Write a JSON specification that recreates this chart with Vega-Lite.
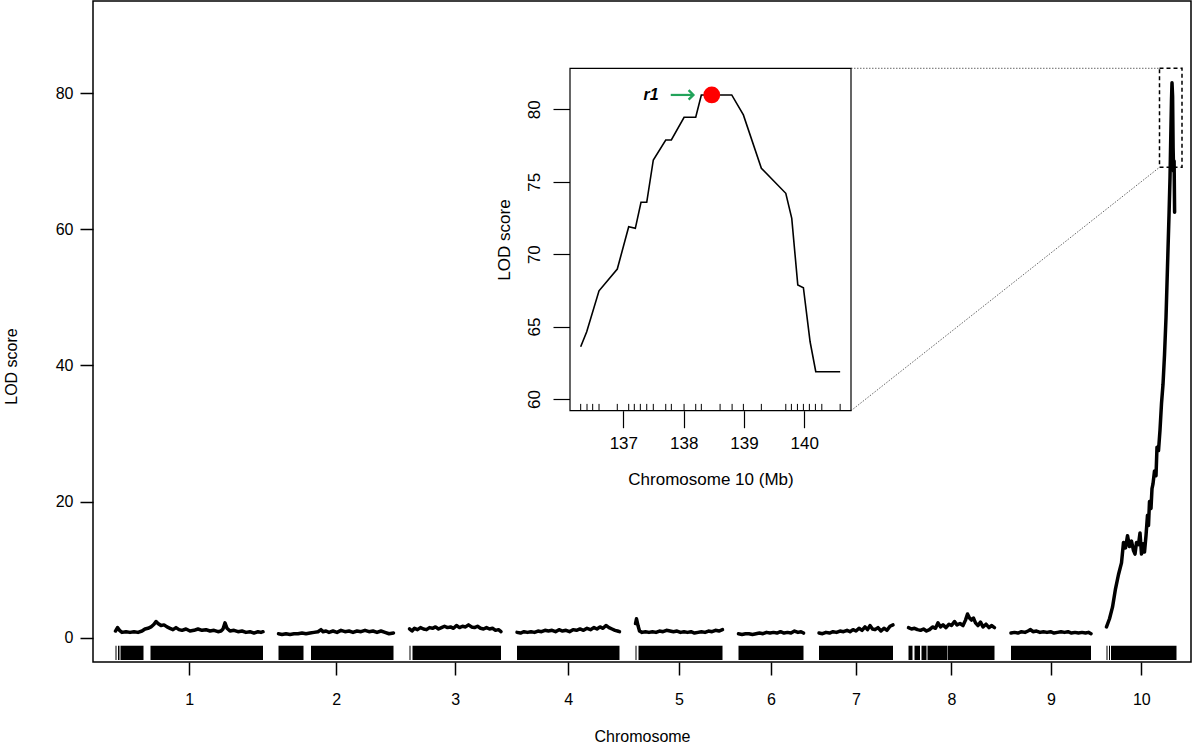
{
  "$schema": "https://vega.github.io/schema/vega-lite/v6.json",
  "width": 1098,
  "height": 661,
  "autosize": {"type": "none"},
  "padding": {"left": 93, "top": 1, "right": 9, "bottom": 84},
  "background": "white",
  "config": {
    "font": "Liberation Sans",
    "view": {"stroke": "black", "strokeWidth": 1.5},
    "axis": {"grid": false, "labelColor": "black", "titleColor": "black", "tickColor": "black", "titleFontWeight": "normal", "labelFont": "Liberation Sans", "titleFont": "Liberation Sans"}
  },
  "datasets": {
    "main": [
      {"chr":1,"pos":45,"lod":1.0},{"chr":1,"pos":49,"lod":1.5},{"chr":1,"pos":53,"lod":1.1},{"chr":1,"pos":58,"lod":0.8},{"chr":1,"pos":66,"lod":0.9},{"chr":1,"pos":74,"lod":0.8},{"chr":1,"pos":82,"lod":0.9},{"chr":1,"pos":90,"lod":0.8},{"chr":1,"pos":98,"lod":1.0},{"chr":1,"pos":104,"lod":1.3},{"chr":1,"pos":110,"lod":1.4},{"chr":1,"pos":116,"lod":1.6},{"chr":1,"pos":122,"lod":2.0},{"chr":1,"pos":126,"lod":2.4},{"chr":1,"pos":130,"lod":2.1},{"chr":1,"pos":136,"lod":1.8},{"chr":1,"pos":142,"lod":1.9},{"chr":1,"pos":148,"lod":1.6},{"chr":1,"pos":154,"lod":1.4},{"chr":1,"pos":160,"lod":1.2},{"chr":1,"pos":166,"lod":1.5},{"chr":1,"pos":172,"lod":1.2},{"chr":1,"pos":178,"lod":1.1},{"chr":1,"pos":186,"lod":1.3},{"chr":1,"pos":194,"lod":1.0},{"chr":1,"pos":202,"lod":1.1},{"chr":1,"pos":210,"lod":1.3},{"chr":1,"pos":218,"lod":1.1},{"chr":1,"pos":226,"lod":1.2},{"chr":1,"pos":234,"lod":1.0},{"chr":1,"pos":242,"lod":1.1},{"chr":1,"pos":250,"lod":0.9},{"chr":1,"pos":256,"lod":1.0},{"chr":1,"pos":260,"lod":1.3},{"chr":1,"pos":264,"lod":2.2},{"chr":1,"pos":268,"lod":1.4},{"chr":1,"pos":274,"lod":1.0},{"chr":1,"pos":282,"lod":1.1},{"chr":1,"pos":290,"lod":0.9},{"chr":1,"pos":298,"lod":1.0},{"chr":1,"pos":306,"lod":0.8},{"chr":1,"pos":314,"lod":0.9},{"chr":1,"pos":322,"lod":0.7},{"chr":1,"pos":330,"lod":0.9},{"chr":1,"pos":336,"lod":0.8},{"chr":1,"pos":340,"lod":0.9},
      {"chr":2,"pos":371,"lod":0.6},{"chr":2,"pos":378,"lod":0.5},{"chr":2,"pos":386,"lod":0.6},{"chr":2,"pos":394,"lod":0.5},{"chr":2,"pos":402,"lod":0.6},{"chr":2,"pos":410,"lod":0.6},{"chr":2,"pos":418,"lod":0.7},{"chr":2,"pos":426,"lod":0.6},{"chr":2,"pos":434,"lod":0.7},{"chr":2,"pos":442,"lod":0.8},{"chr":2,"pos":450,"lod":0.9},{"chr":2,"pos":456,"lod":1.2},{"chr":2,"pos":460,"lod":0.9},{"chr":2,"pos":466,"lod":1.0},{"chr":2,"pos":472,"lod":0.8},{"chr":2,"pos":480,"lod":1.0},{"chr":2,"pos":488,"lod":0.8},{"chr":2,"pos":496,"lod":1.1},{"chr":2,"pos":504,"lod":0.9},{"chr":2,"pos":512,"lod":1.0},{"chr":2,"pos":520,"lod":0.8},{"chr":2,"pos":528,"lod":1.0},{"chr":2,"pos":536,"lod":0.9},{"chr":2,"pos":544,"lod":1.1},{"chr":2,"pos":552,"lod":0.9},{"chr":2,"pos":560,"lod":1.0},{"chr":2,"pos":568,"lod":0.8},{"chr":2,"pos":576,"lod":1.0},{"chr":2,"pos":584,"lod":0.8},{"chr":2,"pos":592,"lod":0.6},{"chr":2,"pos":601,"lod":0.7},
      {"chr":3,"pos":633,"lod":1.3},{"chr":3,"pos":638,"lod":1.0},{"chr":3,"pos":643,"lod":1.4},{"chr":3,"pos":649,"lod":1.2},{"chr":3,"pos":655,"lod":1.5},{"chr":3,"pos":661,"lod":1.3},{"chr":3,"pos":667,"lod":1.2},{"chr":3,"pos":673,"lod":1.5},{"chr":3,"pos":679,"lod":1.4},{"chr":3,"pos":685,"lod":1.6},{"chr":3,"pos":691,"lod":1.3},{"chr":3,"pos":697,"lod":1.5},{"chr":3,"pos":703,"lod":1.7},{"chr":3,"pos":709,"lod":1.5},{"chr":3,"pos":715,"lod":1.6},{"chr":3,"pos":721,"lod":1.4},{"chr":3,"pos":727,"lod":1.8},{"chr":3,"pos":733,"lod":1.5},{"chr":3,"pos":739,"lod":1.7},{"chr":3,"pos":745,"lod":1.6},{"chr":3,"pos":751,"lod":1.9},{"chr":3,"pos":757,"lod":1.6},{"chr":3,"pos":763,"lod":1.5},{"chr":3,"pos":769,"lod":1.7},{"chr":3,"pos":775,"lod":1.4},{"chr":3,"pos":781,"lod":1.3},{"chr":3,"pos":787,"lod":1.5},{"chr":3,"pos":793,"lod":1.3},{"chr":3,"pos":799,"lod":1.4},{"chr":3,"pos":805,"lod":1.1},{"chr":3,"pos":811,"lod":1.2},{"chr":3,"pos":816,"lod":0.9},
      {"chr":4,"pos":848,"lod":0.8},{"chr":4,"pos":855,"lod":0.7},{"chr":4,"pos":862,"lod":0.9},{"chr":4,"pos":869,"lod":0.8},{"chr":4,"pos":876,"lod":0.9},{"chr":4,"pos":883,"lod":0.8},{"chr":4,"pos":890,"lod":1.0},{"chr":4,"pos":897,"lod":0.9},{"chr":4,"pos":904,"lod":1.1},{"chr":4,"pos":911,"lod":1.0},{"chr":4,"pos":918,"lod":1.1},{"chr":4,"pos":925,"lod":0.9},{"chr":4,"pos":932,"lod":1.2},{"chr":4,"pos":939,"lod":1.0},{"chr":4,"pos":946,"lod":1.1},{"chr":4,"pos":953,"lod":0.9},{"chr":4,"pos":960,"lod":1.2},{"chr":4,"pos":967,"lod":1.1},{"chr":4,"pos":974,"lod":1.3},{"chr":4,"pos":981,"lod":1.1},{"chr":4,"pos":988,"lod":1.4},{"chr":4,"pos":995,"lod":1.2},{"chr":4,"pos":1002,"lod":1.5},{"chr":4,"pos":1008,"lod":1.3},{"chr":4,"pos":1014,"lod":1.6},{"chr":4,"pos":1020,"lod":1.4},{"chr":4,"pos":1026,"lod":1.8},{"chr":4,"pos":1032,"lod":1.5},{"chr":4,"pos":1038,"lod":1.3},{"chr":4,"pos":1044,"lod":1.1},{"chr":4,"pos":1049,"lod":1.0},{"chr":4,"pos":1053,"lod":0.9},
      {"chr":5,"pos":1085,"lod":2.1},{"chr":5,"pos":1087,"lod":2.8},{"chr":5,"pos":1090,"lod":1.8},{"chr":5,"pos":1093,"lod":1.0},{"chr":5,"pos":1098,"lod":0.8},{"chr":5,"pos":1105,"lod":0.9},{"chr":5,"pos":1112,"lod":0.8},{"chr":5,"pos":1119,"lod":0.9},{"chr":5,"pos":1126,"lod":0.8},{"chr":5,"pos":1133,"lod":1.0},{"chr":5,"pos":1140,"lod":0.9},{"chr":5,"pos":1147,"lod":1.1},{"chr":5,"pos":1154,"lod":1.0},{"chr":5,"pos":1161,"lod":0.9},{"chr":5,"pos":1168,"lod":1.0},{"chr":5,"pos":1175,"lod":0.8},{"chr":5,"pos":1182,"lod":0.9},{"chr":5,"pos":1189,"lod":0.8},{"chr":5,"pos":1196,"lod":0.9},{"chr":5,"pos":1203,"lod":0.7},{"chr":5,"pos":1210,"lod":0.8},{"chr":5,"pos":1217,"lod":0.9},{"chr":5,"pos":1224,"lod":0.8},{"chr":5,"pos":1231,"lod":1.0},{"chr":5,"pos":1238,"lod":0.9},{"chr":5,"pos":1245,"lod":1.1},{"chr":5,"pos":1252,"lod":1.0},{"chr":5,"pos":1259,"lod":1.2},
      {"chr":6,"pos":1291,"lod":0.6},{"chr":6,"pos":1298,"lod":0.5},{"chr":6,"pos":1305,"lod":0.6},{"chr":6,"pos":1312,"lod":0.6},{"chr":6,"pos":1319,"lod":0.5},{"chr":6,"pos":1326,"lod":0.6},{"chr":6,"pos":1333,"lod":0.7},{"chr":6,"pos":1340,"lod":0.6},{"chr":6,"pos":1347,"lod":0.8},{"chr":6,"pos":1354,"lod":0.7},{"chr":6,"pos":1361,"lod":0.8},{"chr":6,"pos":1368,"lod":0.7},{"chr":6,"pos":1375,"lod":0.9},{"chr":6,"pos":1382,"lod":0.7},{"chr":6,"pos":1389,"lod":0.8},{"chr":6,"pos":1396,"lod":0.7},{"chr":6,"pos":1403,"lod":1.0},{"chr":6,"pos":1410,"lod":0.8},{"chr":6,"pos":1416,"lod":0.9},{"chr":6,"pos":1421,"lod":0.7},
      {"chr":7,"pos":1452,"lod":0.7},{"chr":7,"pos":1459,"lod":0.6},{"chr":7,"pos":1466,"lod":0.8},{"chr":7,"pos":1473,"lod":0.7},{"chr":7,"pos":1480,"lod":0.9},{"chr":7,"pos":1487,"lod":0.8},{"chr":7,"pos":1494,"lod":1.0},{"chr":7,"pos":1501,"lod":0.9},{"chr":7,"pos":1508,"lod":1.1},{"chr":7,"pos":1514,"lod":0.9},{"chr":7,"pos":1520,"lod":1.2},{"chr":7,"pos":1526,"lod":1.0},{"chr":7,"pos":1532,"lod":1.4},{"chr":7,"pos":1538,"lod":1.1},{"chr":7,"pos":1544,"lod":1.6},{"chr":7,"pos":1549,"lod":1.2},{"chr":7,"pos":1554,"lod":1.8},{"chr":7,"pos":1559,"lod":1.3},{"chr":7,"pos":1564,"lod":1.2},{"chr":7,"pos":1570,"lod":1.5},{"chr":7,"pos":1576,"lod":1.0},{"chr":7,"pos":1582,"lod":1.4},{"chr":7,"pos":1588,"lod":1.1},{"chr":7,"pos":1594,"lod":1.7},{"chr":7,"pos":1600,"lod":1.9},
      {"chr":8,"pos":1631,"lod":1.5},{"chr":8,"pos":1637,"lod":1.3},{"chr":8,"pos":1643,"lod":1.4},{"chr":8,"pos":1649,"lod":1.2},{"chr":8,"pos":1655,"lod":1.1},{"chr":8,"pos":1661,"lod":1.3},{"chr":8,"pos":1667,"lod":1.0},{"chr":8,"pos":1673,"lod":1.2},{"chr":8,"pos":1679,"lod":1.6},{"chr":8,"pos":1685,"lod":1.4},{"chr":8,"pos":1690,"lod":2.2},{"chr":8,"pos":1695,"lod":1.6},{"chr":8,"pos":1700,"lod":1.9},{"chr":8,"pos":1706,"lod":1.5},{"chr":8,"pos":1712,"lod":2.0},{"chr":8,"pos":1717,"lod":1.8},{"chr":8,"pos":1723,"lod":2.4},{"chr":8,"pos":1728,"lod":1.9},{"chr":8,"pos":1734,"lod":2.1},{"chr":8,"pos":1740,"lod":1.8},{"chr":8,"pos":1745,"lod":2.6},{"chr":8,"pos":1749,"lod":3.5},{"chr":8,"pos":1753,"lod":2.9},{"chr":8,"pos":1757,"lod":2.6},{"chr":8,"pos":1761,"lod":2.9},{"chr":8,"pos":1765,"lod":2.2},{"chr":8,"pos":1770,"lod":1.8},{"chr":8,"pos":1775,"lod":2.3},{"chr":8,"pos":1780,"lod":1.6},{"chr":8,"pos":1786,"lod":2.0},{"chr":8,"pos":1792,"lod":1.5},{"chr":8,"pos":1797,"lod":1.8},{"chr":8,"pos":1803,"lod":1.5},
      {"chr":9,"pos":1836,"lod":0.7},{"chr":9,"pos":1843,"lod":0.8},{"chr":9,"pos":1850,"lod":0.7},{"chr":9,"pos":1857,"lod":0.9},{"chr":9,"pos":1864,"lod":0.8},{"chr":9,"pos":1870,"lod":1.0},{"chr":9,"pos":1875,"lod":1.2},{"chr":9,"pos":1880,"lod":0.9},{"chr":9,"pos":1887,"lod":1.0},{"chr":9,"pos":1894,"lod":0.8},{"chr":9,"pos":1901,"lod":0.9},{"chr":9,"pos":1908,"lod":0.8},{"chr":9,"pos":1915,"lod":0.9},{"chr":9,"pos":1922,"lod":0.7},{"chr":9,"pos":1929,"lod":0.8},{"chr":9,"pos":1936,"lod":0.9},{"chr":9,"pos":1943,"lod":0.8},{"chr":9,"pos":1950,"lod":0.9},{"chr":9,"pos":1957,"lod":0.7},{"chr":9,"pos":1964,"lod":0.8},{"chr":9,"pos":1971,"lod":0.7},{"chr":9,"pos":1978,"lod":0.8},{"chr":9,"pos":1985,"lod":0.7},{"chr":9,"pos":1991,"lod":0.8},{"chr":9,"pos":1996,"lod":0.6},
      {"chr":10,"pos":2027,"lod":1.6},{"chr":10,"pos":2033,"lod":2.8},{"chr":10,"pos":2039,"lod":4.5},{"chr":10,"pos":2045,"lod":7.2},{"chr":10,"pos":2051,"lod":9.3},{"chr":10,"pos":2057,"lod":11.0},{"chr":10,"pos":2061,"lod":14.0},{"chr":10,"pos":2065,"lod":13.2},{"chr":10,"pos":2069,"lod":15.0},{"chr":10,"pos":2073,"lod":13.4},{"chr":10,"pos":2077,"lod":14.2},{"chr":10,"pos":2081,"lod":12.8},{"chr":10,"pos":2084,"lod":12.3},{"chr":10,"pos":2087,"lod":14.0},{"chr":10,"pos":2091,"lod":13.7},{"chr":10,"pos":2094,"lod":15.4},{"chr":10,"pos":2097,"lod":12.3},{"chr":10,"pos":2100,"lod":13.8},{"chr":10,"pos":2103,"lod":12.6},{"chr":10,"pos":2106,"lod":15.0},{"chr":10,"pos":2109,"lod":18.0},{"chr":10,"pos":2111,"lod":16.5},{"chr":10,"pos":2113,"lod":20.0},{"chr":10,"pos":2116,"lod":19.0},{"chr":10,"pos":2118,"lod":21.9},{"chr":10,"pos":2120,"lod":22.6},{"chr":10,"pos":2123,"lod":24.5},{"chr":10,"pos":2126,"lod":23.8},{"chr":10,"pos":2128,"lod":28.0},{"chr":10,"pos":2131,"lod":27.5},{"chr":10,"pos":2134,"lod":30.5},{"chr":10,"pos":2137,"lod":34.4},{"chr":10,"pos":2140,"lod":37.2},{"chr":10,"pos":2143,"lod":41.5},{"chr":10,"pos":2146,"lod":47.0},{"chr":10,"pos":2149,"lod":54.5},{"chr":10,"pos":2152,"lod":62.0},{"chr":10,"pos":2154,"lod":67.5},{"chr":10,"pos":2155.5,"lod":73.4},{"chr":10,"pos":2157,"lod":79.0},{"chr":10,"pos":2158,"lod":81.5},{"chr":10,"pos":2159.2,"lod":79.5},{"chr":10,"pos":2160.2,"lod":72.0},{"chr":10,"pos":2161.2,"lod":68.5},{"chr":10,"pos":2162.2,"lod":70.0},{"chr":10,"pos":2163.2,"lod":62.5}
    ],
    "rug": [
      {"start":45,"end":47},{"start":50,"end":53},{"start":55,"end":101},{"start":115,"end":340},
      {"start":371,"end":421},{"start":436,"end":601},
      {"start":633,"end":635},{"start":639,"end":816},
      {"start":848,"end":1053},
      {"start":1085,"end":1087},{"start":1091,"end":1259},
      {"start":1291,"end":1421},
      {"start":1452,"end":1600},
      {"start":1631,"end":1639},{"start":1643,"end":1654},{"start":1657,"end":1667},{"start":1669,"end":1708},{"start":1709,"end":1803},
      {"start":1836,"end":1996},
      {"start":2027,"end":2029},{"start":2032,"end":2034},{"start":2036,"end":2167}
    ],
    "box": [{"x1":2133,"x2":2178,"y1":69.09,"y2":83.63}],
    "conn": [
      {"x1":1516,"y1":83.63,"x2":2133,"y2":83.63},
      {"x1":1516,"y1":33.35,"x2":2133,"y2":69.09}
    ],
    "frame": [{"x1":136.116,"x2":140.774,"y1":59.19,"y2":82.83}],
    "inset": [
      {"pos":136.293,"lod":63.61},{"pos":136.393,"lod":64.64},{"pos":136.597,"lod":67.47},{"pos":136.900,"lod":68.97},{"pos":137.089,"lod":71.89},{"pos":137.199,"lod":71.78},{"pos":137.293,"lod":73.58},{"pos":137.388,"lod":73.58},{"pos":137.497,"lod":76.50},{"pos":137.703,"lod":77.88},{"pos":137.796,"lod":77.88},{"pos":138.007,"lod":79.45},{"pos":138.200,"lod":79.45},{"pos":138.293,"lod":80.99},{"pos":138.797,"lod":80.99},{"pos":138.990,"lod":79.61},{"pos":139.288,"lod":75.93},{"pos":139.693,"lod":74.20},{"pos":139.792,"lod":72.47},{"pos":139.892,"lod":67.87},{"pos":139.985,"lod":67.68},{"pos":140.096,"lod":63.95},{"pos":140.190,"lod":61.88},{"pos":140.594,"lod":61.88}
    ],
    "insetRug": [
      {"pos":136.293},{"pos":136.398},{"pos":136.492},{"pos":136.597},{"pos":136.900},{"pos":137.089},{"pos":137.182},{"pos":137.282},{"pos":137.388},{"pos":137.497},{"pos":137.703},{"pos":137.796},{"pos":138.007},{"pos":138.200},{"pos":138.293},{"pos":138.604},{"pos":138.803},{"pos":138.990},{"pos":139.288},{"pos":139.693},{"pos":139.786},{"pos":139.886},{"pos":139.985},{"pos":140.084},{"pos":140.184},{"pos":140.290},{"pos":140.594}
    ],
    "peak": [{"pos":138.466,"lod":80.99}],
    "arrow": [{"x1":137.786,"x2":138.14,"lod":80.99}],
    "arrowHead": [{"pos":138.161,"lod":80.99}],
    "label": [{"pos":137.584,"lod":81.0,"text":"r1"}]
  },
  "layer": [
    {
      "layer": [
        {
          "data": {"name": "main"},
          "mark": {"type": "line", "color": "black", "strokeWidth": 3.5, "strokeJoin": "round", "strokeCap": "round"},
          "encoding": {
            "x": {"field": "pos", "type": "quantitative",
              "scale": {"domain": [0, 2196], "nice": false, "zero": false},
              "axis": {"title": "Chromosome", "orient": "bottom", "values": [192.6, 486.2, 724.3, 950.6, 1171.9, 1355.9, 1526, 1716.9, 1916, 2096.6],
                "labelExpr": "datum.value < 300 ? '1' : datum.value < 600 ? '2' : datum.value < 800 ? '3' : datum.value < 1000 ? '4' : datum.value < 1200 ? '5' : datum.value < 1400 ? '6' : datum.value < 1600 ? '7' : datum.value < 1800 ? '8' : datum.value < 2000 ? '9' : '10'",
                "domain": false, "tickSize": 13, "tickWidth": 1.5, "labelFontSize": 16, "labelPadding": 16, "titleFontSize": 16, "titlePadding": 21, "labelFlush": false, "labelOverlap": false}},
            "y": {"field": "lod", "type": "quantitative",
              "scale": {"domain": [-3.55, 93.51], "nice": false, "zero": false},
              "axis": {"title": "LOD score", "orient": "left", "values": [0, 20, 40, 60, 80], "domain": false, "tickSize": 13, "tickWidth": 1.5, "labelFontSize": 16, "labelPadding": 7, "titleFontSize": 16, "titleX": -74, "titleY": 365, "labelOverlap": false}},
            "detail": {"field": "chr", "type": "nominal"}
          }
        },
        {
          "data": {"name": "rug"},
          "mark": {"type": "rect", "color": "black"},
          "encoding": {
            "x": {"field": "start", "type": "quantitative"},
            "x2": {"field": "end"},
            "y": {"datum": -1.16, "type": "quantitative"},
            "y2": {"datum": -3.26}
          }
        },
        {
          "data": {"name": "conn"},
          "mark": {"type": "rule", "color": "#666666", "strokeWidth": 1, "strokeDash": [1.5, 1.5]},
          "encoding": {
            "x": {"field": "x1", "type": "quantitative"},
            "x2": {"field": "x2"},
            "y": {"field": "y1", "type": "quantitative"},
            "y2": {"field": "y2"}
          }
        },
        {
          "data": {"name": "box"},
          "mark": {"type": "rect", "fillOpacity": 0, "stroke": "black", "strokeWidth": 1.5, "strokeDash": [4, 3]},
          "encoding": {
            "x": {"field": "x1", "type": "quantitative"},
            "x2": {"field": "x2"},
            "y": {"field": "y1", "type": "quantitative"},
            "y2": {"field": "y2"}
          }
        }
      ]
    },
    {
      "layer": [
        {
          "data": {"name": "frame"},
          "mark": {"type": "rect", "fill": "white", "stroke": "black", "strokeWidth": 1.2},
          "encoding": {
            "x": {"field": "x1", "type": "quantitative",
              "scale": {"domain": [136.116, 140.774], "range": [477, 758], "nice": false, "zero": false},
              "axis": {"title": "Chromosome 10 (Mb)", "orient": "bottom", "offset": -251.3, "values": [137, 138, 139, 140], "format": "d", "domain": false, "tickSize": 17, "tickWidth": 1.2, "labelFontSize": 17, "labelPadding": 8, "titleFontSize": 17, "titlePadding": 20, "labelFlush": false, "labelOverlap": false}},
            "x2": {"field": "x2"},
            "y": {"field": "y1", "type": "quantitative",
              "scale": {"domain": [59.19, 82.83], "range": [409.7, 67.3], "nice": false, "zero": false},
              "axis": {"title": "LOD score", "orient": "left", "offset": -477, "values": [60, 65, 70, 75, 80], "domain": false, "tickSize": 17, "tickWidth": 1.2, "labelFontSize": 17, "labelAngle": -90, "labelAlign": "center", "labelBaseline": "bottom", "labelPadding": 10, "titleFontSize": 17, "titlePadding": 12, "labelOverlap": false}},
            "y2": {"field": "y2"}
          }
        },
        {
          "data": {"name": "insetRug"},
          "mark": {"type": "rule", "color": "black", "strokeWidth": 1},
          "encoding": {
            "x": {"field": "pos", "type": "quantitative"},
            "y": {"datum": 59.19, "type": "quantitative"},
            "y2": {"datum": 59.66}
          }
        },
        {
          "data": {"name": "inset"},
          "mark": {"type": "line", "color": "black", "strokeWidth": 1.6},
          "encoding": {
            "x": {"field": "pos", "type": "quantitative"},
            "y": {"field": "lod", "type": "quantitative"}
          }
        },
        {
          "data": {"name": "arrow"},
          "mark": {"type": "rule", "color": "#22a35a", "strokeWidth": 2.2},
          "encoding": {
            "x": {"field": "x1", "type": "quantitative"},
            "x2": {"field": "x2"},
            "y": {"field": "lod", "type": "quantitative"}
          }
        },
        {
          "data": {"name": "arrowHead"},
          "mark": {"type": "point", "shape": "M -1 -1 L 0 0 L -1 1", "filled": false, "stroke": "#22a35a", "strokeWidth": 2.4, "size": 90, "opacity": 1},
          "encoding": {
            "x": {"field": "pos", "type": "quantitative"},
            "y": {"field": "lod", "type": "quantitative"}
          }
        },
        {
          "data": {"name": "peak"},
          "mark": {"type": "point", "filled": true, "color": "#ff0000", "size": 283, "opacity": 1},
          "encoding": {
            "x": {"field": "pos", "type": "quantitative"},
            "y": {"field": "lod", "type": "quantitative"}
          }
        },
        {
          "data": {"name": "label"},
          "mark": {"type": "text", "fontSize": 16, "fontWeight": "bold", "fontStyle": "italic", "align": "right", "baseline": "middle", "color": "black"},
          "encoding": {
            "x": {"field": "pos", "type": "quantitative"},
            "y": {"field": "lod", "type": "quantitative"},
            "text": {"field": "text"}
          }
        }
      ]
    }
  ],
  "resolve": {"scale": {"x": "independent", "y": "independent"}}
}
